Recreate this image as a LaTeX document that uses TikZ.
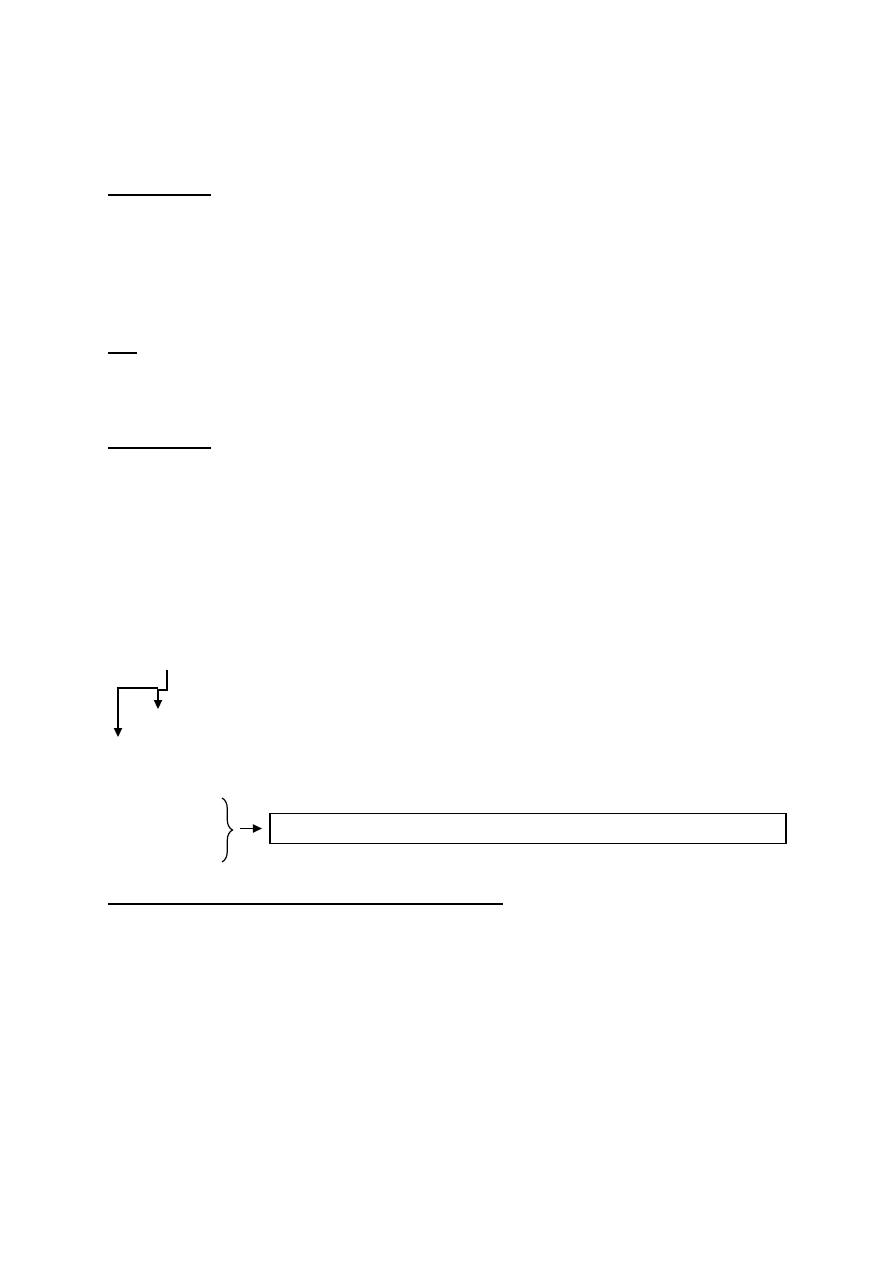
\documentclass[tikz,border=0pt]{standalone}
\usetikzlibrary{arrows.meta,decorations.pathreplacing}
\begin{document}
\begin{tikzpicture}[x={(0.6667pt,0)},y={(0,-0.6667pt)},
  uline/.style={line width=1.6pt},
  thinline/.style={line width=0.8pt},
  conn/.style={line width=0.8pt,-{Triangle[length=6pt,width=5.5pt]}},
  textbox/.style={draw,line width=0.8pt,minimum width=344pt,minimum height=20.5pt,inner sep=0pt}]
\useasboundingbox[fill=white] (0,0) rectangle (893,1263);
% underlines
\coordinate (u1a) at (108,195); \coordinate (u1b) at (211,195);
\draw[uline] (u1a) -- (u1b);
\coordinate (u2a) at (108,353); \coordinate (u2b) at (137,353);
\draw[uline] (u2a) -- (u2b);
\coordinate (u3a) at (108,448); \coordinate (u3b) at (211,448);
\draw[uline] (u3a) -- (u3b);
\coordinate (u4a) at (108,904); \coordinate (u4b) at (503,904);
\draw[uline] (u4a) -- (u4b);
% step arrows
\coordinate (s0) at (167,670);
\coordinate (s1) at (167,690);
\coordinate (s2) at (158,690);
\coordinate (s3) at (158,709);
\draw[conn] (s0) -- (s1) -- (s2) -- (s3);
\coordinate (t0) at (158,688);
\coordinate (t1) at (118,688);
\coordinate (t2) at (118,737);
\draw[conn] (t0) -- (t1) -- (t2);
% brace and box
\node[textbox] (box) at (528,828.5) {};
\coordinate (bra) at (222,798);
\coordinate (brb) at (222,862);
\draw[thinline,decorate,decoration={brace,amplitude=7pt}] (bra) -- (brb);
\coordinate (brtip) at (240,828.5);
\draw[conn,shorten >=5pt] (brtip) -- (brtip -| box.west);
\end{tikzpicture}
\end{document}
